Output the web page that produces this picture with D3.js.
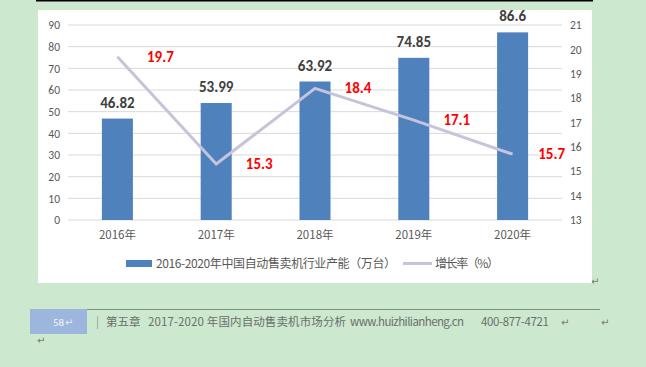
<!DOCTYPE html>
<html><head><meta charset="utf-8">
<script src="https://cdn.jsdelivr.net/npm/d3@7"></script>
<style>
html,body{margin:0;padding:0;background:#cce8cf;}
svg{display:block;}
</style></head>
<body>
<svg id="c" width="646" height="367"></svg>
<script>
const categories = ["2016年","2017年","2018年","2019年","2020年"];
const capacity = [46.82, 53.99, 63.92, 74.85, 86.6];
const growth = [19.7, 15.3, 18.4, 17.1, 15.7];
const leftTicks = [0,10,20,30,40,50,60,70,80,90];
const rightTicks = [13,14,15,16,17,18,19,20,21];
const seriesNames = ["2016-2020年中国自动售卖机行业产能（万台）","增长率（%）"];
const footerPage = "58";
const footerChapter = "第五章";
const footerTitle = "2017-2020 年国内自动售卖机市场分析";
const footerSite = "www.huizhilianheng.cn";
const footerPhone = "400-877-4721";

const svg = d3.select("#c");
const font = "'Microsoft YaHei','Noto Sans CJK SC',sans-serif";
const latin = "Calibri,'Liberation Sans','Noto Sans CJK SC',sans-serif";

// top black line
svg.append("rect").attr("x",36).attr("y",0).attr("width",557).attr("height",1.5).attr("fill","#000");
// white chart area
svg.append("rect").attr("x",38).attr("y",10).attr("width",554).attr("height",273).attr("fill","#fff");

const x = d3.scaleBand().domain(categories).range([68,562]).paddingInner(0.686).paddingOuter(0.343);
const yL = d3.scaleLinear().domain([0,90]).range([220,25]);
const yR = d3.scaleLinear().domain([13,21]).range([220,25]);

// grid
svg.append("g").selectAll("line").data(leftTicks).join("line")
  .attr("x1",68).attr("x2",562).attr("y1",d=>yL(d)).attr("y2",d=>yL(d))
  .attr("stroke","#d9d9d9").attr("stroke-width",1);

// left axis
const gl = svg.append("g").attr("transform","translate(68,0)")
  .call(d3.axisLeft(yL).tickValues(leftTicks).tickSize(0).tickPadding(8));
gl.select(".domain").remove();
gl.selectAll("text").attr("fill","#595959").attr("font-size",11.5).attr("font-family",latin);

// right axis
const gr = svg.append("g").attr("transform","translate(562,0)")
  .call(d3.axisRight(yR).tickValues(rightTicks).tickSize(0).tickPadding(8));
gr.select(".domain").remove();
gr.selectAll("text").attr("fill","#595959").attr("font-size",11.5).attr("font-family",latin);

// bars
svg.append("g").selectAll("rect").data(capacity).join("rect")
  .attr("x",(d,i)=>x(categories[i])).attr("width",x.bandwidth())
  .attr("y",d=>yL(d)).attr("height",d=>yL(0)-yL(d)).attr("fill","#4f81bd");

// bar labels
svg.append("g").selectAll("text").data(capacity).join("text")
  .attr("x",(d,i)=>x(categories[i])+x.bandwidth()/2).attr("y",d=>yL(d)-11)
  .attr("text-anchor","middle").attr("font-size",15).attr("font-weight","bold")
  .attr("fill","#404040").attr("font-family",latin).text(d=>d);

// line
const cx = i => x(categories[i])+x.bandwidth()/2;
svg.append("path").datum(growth)
  .attr("d",d3.line().x((d,i)=>cx(i)).y(d=>yR(d)))
  .attr("fill","none").attr("stroke","#c6c3dd").attr("stroke-width",3);

// line labels
svg.append("g").selectAll("text").data(growth).join("text")
  .attr("x",(d,i)=>cx(i)+ (i===4?39:43)).attr("y",d=>yR(d)+5)
  .attr("text-anchor","middle").attr("font-size",15).attr("font-weight","bold")
  .attr("fill","#ff0000").attr("font-family",latin).text(d=>d.toFixed(1));

// x labels
svg.append("g").selectAll("text").data(categories).join("text")
  .attr("x",(d,i)=>cx(i)).attr("y",239)
  .attr("text-anchor","middle").attr("font-size",11.5).attr("fill","#595959")
  .attr("font-family",font).text(d=>d);

// legend
svg.append("rect").attr("x",126).attr("y",260).attr("width",26).attr("height",7).attr("fill","#4f81bd");
svg.append("text").attr("x",156).attr("y",268).attr("font-size",12).attr("fill","#595959")
  .attr("font-family",font).attr("textLength",240).text(seriesNames[0]);
svg.append("line").attr("x1",403).attr("x2",432).attr("y1",263.5).attr("y2",263.5)
  .attr("stroke","#c6c3dd").attr("stroke-width",3);
svg.append("text").attr("x",435).attr("y",268).attr("font-size",12).attr("fill","#595959")
  .attr("font-family",font).attr("textLength",64).text(seriesNames[1]);

// paragraph marks
const para = (px,py)=>svg.append("text").attr("x",px).attr("y",py).attr("font-size",10)
  .attr("fill","#777").attr("font-family","'DejaVu Sans',sans-serif").text("↵");
para(591,285);

// footer
svg.append("rect").attr("x",30).attr("y",309).attr("width",57).attr("height",25).attr("fill","#9cb6de");
svg.append("line").attr("x1",87).attr("x2",600).attr("y1",309.5).attr("y2",309.5).attr("stroke","#7f8f80").attr("stroke-width",1);
svg.append("text").attr("x",53).attr("y",326).attr("font-size",11).attr("fill","#f4f6fb")
  .attr("font-family",latin).text(footerPage);
para(65,326).attr("fill","#e8ecf5");
const ft = (tx,t,len)=>{const e=svg.append("text").attr("x",tx).attr("y",326).attr("font-size",11.5).attr("fill","#6b6f6b")
  .attr("font-family",font).text(t); if(len) e.attr("textLength",len); return e;};
ft(96,"|").attr("fill","#999");
ft(106,footerChapter);
ft(148,footerTitle,198);
ft(350,footerSite,114);
ft(481,footerPhone,68);
para(561,326);
para(601,326);
para(37,344);
</script>
</body></html>
